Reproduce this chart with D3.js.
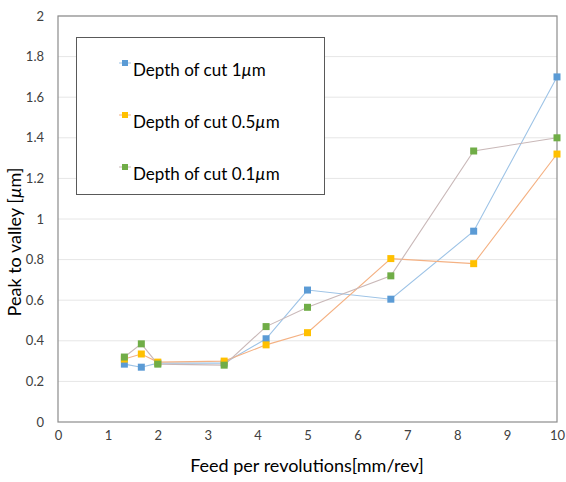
<!DOCTYPE html>
<html><head><meta charset="utf-8">
<script src="https://cdn.jsdelivr.net/npm/d3@7"></script>
<style>body{margin:0;background:#fff}svg{display:block}</style>
</head><body><svg id="c" width="566" height="482"></svg>
<script>
const feed = [1.33, 1.67, 2, 3.33, 4.17, 5, 6.67, 8.33, 10];
const depth1 = [0.285, 0.27, 0.29, 0.29, 0.41, 0.65, 0.605, 0.94, 1.70];
const depth05 = [0.31, 0.335, 0.295, 0.30, 0.38, 0.44, 0.805, 0.78, 1.32];
const depth01 = [0.32, 0.385, 0.285, 0.28, 0.47, 0.565, 0.72, 1.335, 1.40];
const seriesNames = ["Depth of cut 1", "Depth of cut 0.5", "Depth of cut 0.1"];
const xTicks = [0,1,2,3,4,5,6,7,8,9,10];
const yTicks = [0,0.2,0.4,0.6,0.8,1,1.2,1.4,1.6,1.8,2];

const series = [
  {name: seriesNames[0], values: depth1, line: "#9dc3e6", marker: "#5b9bd5"},
  {name: seriesNames[1], values: depth05, line: "#f4b183", marker: "#ffc000"},
  {name: seriesNames[2], values: depth01, line: "#c9b8b8", marker: "#70ad47"}
];

const svg = d3.select("#c");
const font = "Lato, 'Open Sans', sans-serif";
const m = {l: 58, r: 557, t: 16, b: 422};
const x = d3.scaleLinear().domain([0,10]).range([m.l, m.r]);
const y = d3.scaleLinear().domain([0,2]).range([m.b, m.t]);

// gridlines
svg.append("g").selectAll("line").data(yTicks.slice(1)).join("line")
  .attr("x1", m.l).attr("x2", m.r).attr("y1", d=>y(d)).attr("y2", d=>y(d))
  .attr("stroke", "#e6e6e6").attr("stroke-width", 1);

// frame
svg.append("rect").attr("x", m.l).attr("y", m.t).attr("width", m.r-m.l).attr("height", m.b-m.t)
  .attr("fill", "none").attr("stroke", "#8c8c8c").attr("stroke-width", 1.2);

// axes
const xa = svg.append("g").attr("transform", `translate(0,${m.b})`)
  .call(d3.axisBottom(x).tickValues(xTicks).tickSize(0).tickPadding(9).tickFormat(d3.format("d")));
xa.select(".domain").remove();
const ya = svg.append("g").attr("transform", `translate(${m.l},0)`)
  .call(d3.axisLeft(y).tickValues(yTicks).tickSize(0).tickPadding(14).tickFormat(d=>String(+d.toFixed(1))));
ya.select(".domain").remove();
svg.selectAll(".tick text").attr("font-family", font).attr("font-size", 13).attr("fill", "#404040");

// lines
const line = d3.line().x((d,i)=>x(feed[i])).y(d=>y(d));
series.forEach(s => {
  svg.append("path").attr("d", line(s.values)).attr("fill", "none")
    .attr("stroke", s.line).attr("stroke-width", 1.1);
});
series.forEach(s => {
  svg.append("g").selectAll("rect").data(s.values).join("rect")
    .attr("x", (d,i)=>x(feed[i])-3.5).attr("y", d=>y(d)-3.5)
    .attr("width", 7).attr("height", 7).attr("fill", s.marker);
});

// legend
svg.append("rect").attr("x", 76.5).attr("y", 37.5).attr("width", 248).attr("height", 157)
  .attr("fill", "#fff").attr("stroke", "#595959").attr("stroke-width", 1);
series.forEach((s, i) => {
  const cy = 63 + i*52;
  svg.append("line").attr("x1", 119).attr("x2", 131).attr("y1", cy).attr("y2", cy)
    .attr("stroke", s.line).attr("stroke-width", 1);
  svg.append("rect").attr("x", 122).attr("y", cy-3).attr("width", 6).attr("height", 6).attr("fill", s.marker);
  const t = svg.append("text").attr("x", 133).attr("y", cy+13)
    .attr("font-family", font).attr("font-size", 17).attr("fill", "#000");
  t.append("tspan").text(s.name);
  t.append("tspan").attr("font-style", "italic").text("µ");
  t.append("tspan").text("m");
});

// axis titles
svg.append("text").attr("x", 307).attr("y", 472).attr("text-anchor", "middle")
  .attr("font-family", font).attr("font-size", 18).attr("fill", "#000")
  .text("Feed per revolutions[mm/rev]");
const yt = svg.append("text").attr("transform", "translate(21,242) rotate(-90)").attr("text-anchor", "middle")
  .attr("font-family", font).attr("font-size", 18).attr("fill", "#000");
yt.append("tspan").text("Peak to valley [");
yt.append("tspan").attr("font-style", "italic").text("µ");
yt.append("tspan").text("m]");
</script></body></html>
